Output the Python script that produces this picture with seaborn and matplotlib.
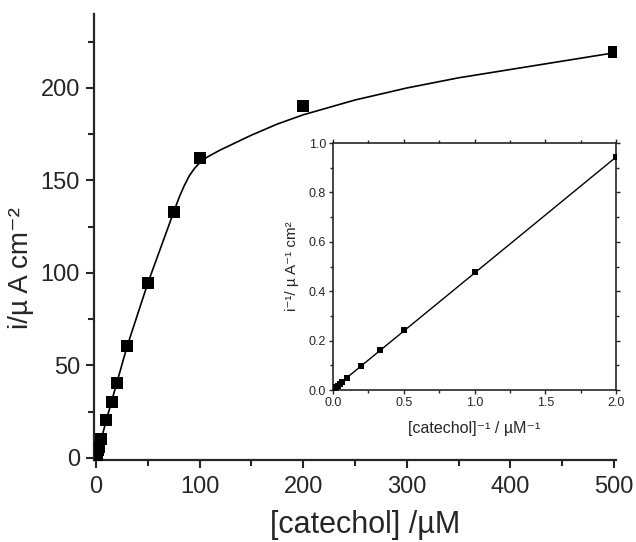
import numpy as np
import pandas as pd
import seaborn as sns
import matplotlib.pyplot as plt
from matplotlib.ticker import MultipleLocator

# measured points, [catechol] in uM and current density in uA cm-2
conc = [0.5, 1, 2, 3, 5, 10, 15, 20, 30, 50, 75, 100, 200, 500]
current = [1.06, 2.09, 4.08, 6.17, 10.1, 20.5, 30.4, 40.4, 60.5, 94.8, 133, 162, 190, 219.5]

# fitted curve
curve_x = [0, 5, 10, 20, 30, 50, 75, 80, 85, 90, 95, 100, 105, 110, 120, 135, 150,
           175, 200, 250, 300, 350, 400, 450, 500]
curve_y = [0, 10, 20.5, 40.5, 60.3, 94.5, 133, 140.5, 147, 152.5, 156.5, 159.5, 161.8,
           163.5, 166.5, 170.5, 174.5, 180.5, 185.5, 193.5, 200, 205.5, 210, 214.5, 219]

# Lineweaver-Burk inset
inv_conc = [1 / c for c in conc]
inv_current = [0.943, 0.478, 0.245, 0.162, 0.097, 0.049, 0.033, 0.025, 0.0165, 0.0105,
               0.0075, 0.0062, 0.0053, 0.0046]
fit_x = [0, 2.0]
fit_y = [0.004, 0.943]

sns.set_style('ticks')
plt.rcParams['font.family'] = ['Liberation Sans', 'DejaVu Sans']

df = pd.DataFrame({'c': conc, 'i': current})
df_curve = pd.DataFrame({'c': curve_x, 'i': curve_y})
df_inv = pd.DataFrame({'x': inv_conc, 'y': inv_current})
df_fit = pd.DataFrame({'x': fit_x, 'y': fit_y})

fig = plt.figure(figsize=(6.36, 5.42), dpi=100)
ax = fig.add_axes([0.1477, 0.1516, 0.821, 0.8226])

sns.lineplot(data=df_curve, x='c', y='i', ax=ax, color='black', lw=1.2, sort=False)
sns.scatterplot(data=df, x='c', y='i', ax=ax, color='black', marker='s', s=70,
                edgecolor='black', linewidth=0, zorder=3)

ax.set_xlim(-2, 502)
ax.set_ylim(-1, 240)
ax.xaxis.set_major_locator(MultipleLocator(100))
ax.xaxis.set_minor_locator(MultipleLocator(50))
ax.yaxis.set_major_locator(MultipleLocator(50))
ax.yaxis.set_minor_locator(MultipleLocator(25))
ax.tick_params(which='major', direction='out', length=6, width=1.5, labelsize=17, pad=4)
ax.tick_params(axis='x', which='major', pad=6)
ax.tick_params(which='minor', direction='out', length=4, width=1.5)
for side in ['top', 'right']:
    ax.spines[side].set_visible(False)
for side in ['left', 'bottom']:
    ax.spines[side].set_linewidth(1.6)
ax.set_xlabel('[catechol] /\u00b5M', fontsize=22)
ax.set_ylabel('i/\u00b5 A cm\u207b\u00b2', fontsize=20)
ax.xaxis.set_label_coords(0.52, -0.112)
ax.yaxis.set_label_coords(-0.115, 0.43)

# inset
ins = fig.add_axes([0.5236, 0.2804, 0.445, 0.4557])
sns.lineplot(data=df_fit, x='x', y='y', ax=ins, color='black', lw=1.0)
sns.scatterplot(data=df_inv, x='x', y='y', ax=ins, color='black', marker='s', s=16,
                linewidth=0, zorder=3)
ins.set_xlim(0, 2.0)
ins.set_ylim(0, 1.0)
ins.xaxis.set_major_locator(MultipleLocator(0.5))
ins.xaxis.set_minor_locator(MultipleLocator(0.25))
ins.yaxis.set_major_locator(MultipleLocator(0.2))
ins.yaxis.set_minor_locator(MultipleLocator(0.1))
ins.tick_params(which='both', direction='out', top=True, right=True, width=1.0,
                labelsize=9, pad=2)
ins.tick_params(which='major', length=3)
ins.tick_params(which='minor', length=2)
for s in ins.spines.values():
    s.set_linewidth(1.2)
ins.set_xlabel('[catechol]\u207b\u00b9 / \u00b5M\u207b\u00b9', fontsize=11.5, labelpad=9)
ins.set_ylabel('i\u207b\u00b9/ \u00b5 A\u207b\u00b9 cm\u00b2', fontsize=11, labelpad=7)

fig.savefig('out.png', dpi=100)
